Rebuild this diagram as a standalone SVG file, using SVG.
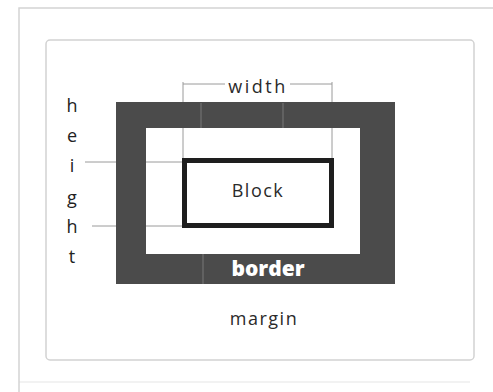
<svg xmlns="http://www.w3.org/2000/svg" width="493" height="392" viewBox="0 0 493 392">
<style>
.frame{fill:none;stroke:#d4d4d4;stroke-width:1.5}
.dim{stroke:#9a9a9a;stroke-width:1;fill:none}
.lbl{font-family:"Open Sans","Liberation Sans",sans-serif;font-size:18px;fill:#2a2a2a}
.hl{font-family:"Open Sans","Liberation Sans",sans-serif;font-size:18px;fill:#222222;text-anchor:middle}
.streak{stroke:#8a8a8a;stroke-width:2;opacity:0.35}
</style>
<rect width="493" height="392" fill="#ffffff"/>
<g id="page-frame">
<path class="frame" d="M19,392 L19,8 L493,8"/>
<path class="frame" d="M19,382 L470,382" stroke-opacity="0.4"/>
</g>
<g id="margin">
<rect x="46" y="40" width="428" height="320" rx="4" fill="#ffffff" stroke="#d2d2d2" stroke-width="1.5"/>
<text class="lbl" x="264" y="325" text-anchor="middle" letter-spacing="1.5">margin</text>
</g>
<g id="border">
<rect x="116" y="102" width="279" height="182" fill="#4b4b4b"/>
<rect x="146" y="128" width="214" height="126" fill="#ffffff"/>
<line class="streak" x1="201" y1="103" x2="201" y2="128"/>
<line class="streak" x1="283" y1="103" x2="283" y2="128"/>
<line class="streak" x1="203" y1="254" x2="203" y2="284"/>
<text x="268" y="276" text-anchor="middle" font-family="'Open Sans','Liberation Sans',sans-serif" font-size="21" font-weight="800" fill="#ffffff">border</text>
</g>
<g id="block">
<rect x="184.5" y="160.5" width="147" height="65" fill="#ffffff" stroke="#1e1e1e" stroke-width="5"/>
<text class="lbl" x="258" y="197" text-anchor="middle" letter-spacing="1.5">Block</text>
</g>
<g id="connectors">
<path class="dim" d="M183,82 L183,102 M183,128 L183,158 M332,82 L332,102 M332,128 L332,158 M183,84 L225,84 M290,84 L332,84"/>
<path class="dim" d="M85,162 L116,162 M146,162 L182,162 M92,226 L116,226 M146,226 L182,226"/>
</g>
<g id="width-label">
<text class="lbl" x="258" y="93" text-anchor="middle" letter-spacing="2.5">width</text>
</g>
<g id="height-label">
<text class="hl" x="72" y="112">h</text>
<text class="hl" x="72" y="142">e</text>
<text class="hl" x="72" y="172">i</text>
<text class="hl" x="72" y="204">g</text>
<text class="hl" x="72" y="233">h</text>
<text class="hl" x="72" y="263">t</text>
</g>
</svg>
